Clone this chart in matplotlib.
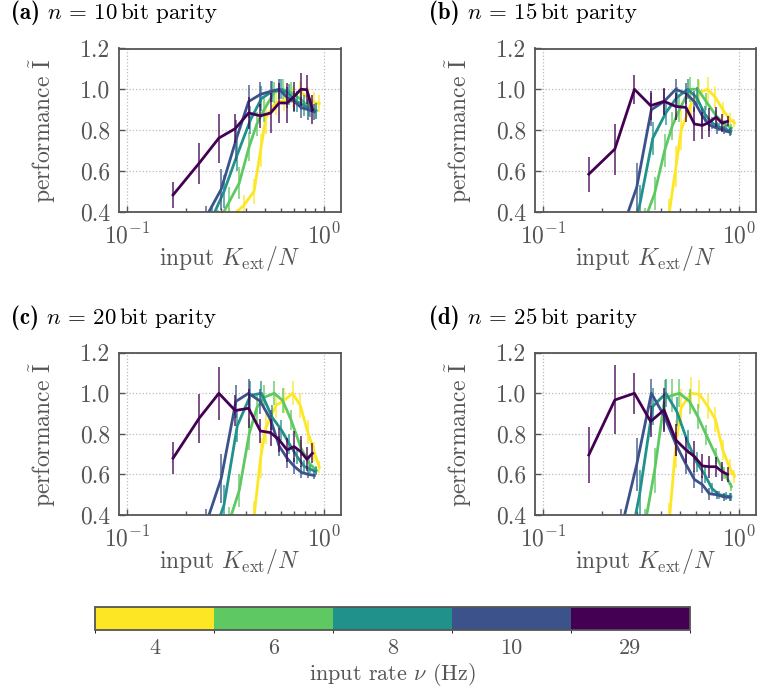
import numpy as np
import matplotlib
matplotlib.use("Agg")
import matplotlib.pyplot as plt
from matplotlib.colors import ListedColormap, BoundaryNorm
from matplotlib.cm import ScalarMappable

plt.rcParams['font.family'] = 'serif'
plt.rcParams['font.serif'] = ['cmr10', 'DejaVu Serif']
plt.rcParams['mathtext.fontset'] = 'cm'
plt.rcParams['axes.formatter.use_mathtext'] = True
plt.rcParams['font.size'] = 17

# input rates (Hz) and colours
rates = ['4', '6', '8', '10', '29']
colors = ['#fde725', '#5ec962', '#21918c', '#3b528b', '#440154']

# K_ext / N for each rate
x_4 = [0.27, 0.33, 0.39, 0.44, 0.475, 0.505, 0.568, 0.626, 0.690, 0.755, 0.823, 0.890, 0.943]
x_6 = [0.24, 0.29, 0.33, 0.37, 0.416, 0.455, 0.495, 0.557, 0.614, 0.677, 0.761, 0.839, 0.91]
x_8 = [0.22, 0.27, 0.31, 0.362, 0.422, 0.48, 0.545, 0.605, 0.665, 0.725, 0.79, 0.85, 0.905]
x_10 = [0.20, 0.25, 0.30, 0.356, 0.413, 0.474, 0.534, 0.590, 0.647, 0.703, 0.765, 0.83, 0.89]
x_29 = [0.171, 0.232, 0.292, 0.353, 0.413, 0.474, 0.534, 0.590, 0.647, 0.703, 0.760, 0.815, 0.870]

# (a) n = 10
a_4 = [0.15, 0.37, 0.43, 0.50, 0.70, 0.86, 0.935, 0.945, 0.965, 0.99, 0.96, 0.935, 0.93]
a_6 = [0.20, 0.35, 0.45, 0.54, 0.72, 0.83, 0.90, 0.985, 1.0, 0.985, 0.95, 0.91, 0.895]
a_8 = [0.20, 0.37, 0.50, 0.68, 0.85, 0.955, 0.99, 1.0, 0.975, 0.94, 0.92, 0.905, 0.895]
a_10 = [0.15, 0.37, 0.51, 0.75, 0.94, 0.975, 0.99, 1.0, 0.96, 0.94, 0.91, 0.90, 0.89]
a_29 = [0.482, 0.638, 0.761, 0.807, 0.884, 0.870, 0.884, 0.933, 0.933, 0.965, 1.0, 0.998, 0.90]
a_4_err = [0.05, 0.05, 0.05, 0.06, 0.08, 0.08, 0.06, 0.05, 0.05, 0.05, 0.05, 0.05, 0.04]
a_6_err = [0.05, 0.06, 0.07, 0.08, 0.07, 0.06, 0.06, 0.05, 0.05, 0.05, 0.05, 0.04, 0.04]
a_8_err = [0.05, 0.06, 0.08, 0.08, 0.07, 0.06, 0.05, 0.05, 0.05, 0.05, 0.05, 0.04, 0.04]
a_10_err = [0.05, 0.06, 0.10, 0.10, 0.08, 0.06, 0.05, 0.05, 0.05, 0.05, 0.05, 0.05, 0.04]
a_29_err = [0.065, 0.10, 0.12, 0.07, 0.08, 0.06, 0.10, 0.10, 0.10, 0.07, 0.08, 0.07, 0.07]

# (b) n = 15
b_4 = [0.10, 0.15, 0.25, 0.40, 0.62, 0.80, 0.93, 0.985, 1.0, 0.96, 0.90, 0.855, 0.835]
b_6 = [0.10, 0.20, 0.36, 0.49, 0.70, 0.82, 0.90, 1.0, 1.0, 0.94, 0.87, 0.83, 0.81]
b_8 = [0.10, 0.25, 0.43, 0.76, 0.885, 0.96, 1.0, 0.96, 0.88, 0.835, 0.815, 0.805, 0.795]
b_10 = [0.10, 0.30, 0.52, 0.90, 0.94, 1.0, 0.98, 0.94, 0.87, 0.825, 0.81, 0.80, 0.79]
b_29 = [0.584, 0.707, 1.0, 0.920, 0.941, 0.916, 0.911, 0.830, 0.823, 0.838, 0.864, 0.834, 0.843]
b_4_err = [0.05, 0.05, 0.05, 0.06, 0.10, 0.10, 0.07, 0.06, 0.06, 0.05, 0.04, 0.03, 0.02]
b_6_err = [0.05, 0.05, 0.06, 0.08, 0.08, 0.07, 0.06, 0.06, 0.05, 0.04, 0.03, 0.02, 0.02]
b_8_err = [0.05, 0.06, 0.10, 0.08, 0.06, 0.05, 0.05, 0.05, 0.04, 0.03, 0.02, 0.02, 0.02]
b_10_err = [0.05, 0.08, 0.12, 0.08, 0.06, 0.05, 0.05, 0.05, 0.04, 0.03, 0.03, 0.02, 0.02]
b_29_err = [0.085, 0.125, 0.07, 0.07, 0.065, 0.065, 0.07, 0.085, 0.065, 0.07, 0.05, 0.045, 0.025]

# (c) n = 20
c_4 = [0.10, 0.12, 0.20, 0.39, 0.68, 0.83, 0.94, 0.965, 1.0, 0.94, 0.81, 0.71, 0.635]
c_6 = [0.15, 0.25, 0.37, 0.52, 0.80, 0.93, 0.98, 1.0, 0.965, 0.87, 0.73, 0.655, 0.62]
c_8 = [0.15, 0.28, 0.45, 0.84, 0.99, 1.0, 0.88, 0.82, 0.75, 0.69, 0.64, 0.625, 0.615]
c_10 = [0.15, 0.35, 0.58, 0.96, 1.0, 0.96, 0.87, 0.74, 0.68, 0.64, 0.61, 0.60, 0.595]
c_29 = [0.680, 0.877, 1.0, 0.915, 0.926, 0.814, 0.806, 0.770, 0.721, 0.737, 0.712, 0.675, 0.704]
c_4_err = [0.05, 0.05, 0.05, 0.08, 0.10, 0.08, 0.06, 0.06, 0.06, 0.06, 0.06, 0.05, 0.03]
c_6_err = [0.05, 0.05, 0.07, 0.08, 0.08, 0.07, 0.06, 0.06, 0.06, 0.05, 0.04, 0.03, 0.02]
c_8_err = [0.05, 0.06, 0.10, 0.08, 0.07, 0.06, 0.06, 0.05, 0.05, 0.04, 0.03, 0.02, 0.02]
c_10_err = [0.05, 0.08, 0.12, 0.08, 0.07, 0.06, 0.05, 0.05, 0.05, 0.04, 0.03, 0.02, 0.02]
c_29_err = [0.08, 0.12, 0.13, 0.075, 0.095, 0.06, 0.065, 0.06, 0.06, 0.075, 0.075, 0.06, 0.05]

# (d) n = 25
d_4 = [0.10, 0.12, 0.20, 0.38, 0.75, 0.93, 1.0, 0.995, 0.935, 0.87, 0.72, 0.635, 0.59]
d_6 = [0.10, 0.20, 0.35, 0.62, 0.975, 0.99, 1.0, 0.96, 0.885, 0.795, 0.69, 0.605, 0.54]
d_8 = [0.10, 0.20, 0.50, 0.935, 1.0, 0.91, 0.76, 0.66, 0.60, 0.53, 0.50, 0.495, 0.49]
d_10 = [0.10, 0.33, 0.65, 1.0, 0.89, 0.75, 0.65, 0.575, 0.55, 0.505, 0.50, 0.49, 0.487]
d_29 = [0.696, 0.967, 1.0, 0.861, 0.918, 0.770, 0.721, 0.688, 0.642, 0.638, 0.638, 0.614, 0.600]
d_4_err = [0.05, 0.05, 0.05, 0.08, 0.12, 0.09, 0.08, 0.07, 0.06, 0.06, 0.05, 0.04, 0.03]
d_6_err = [0.05, 0.05, 0.08, 0.11, 0.09, 0.08, 0.07, 0.06, 0.06, 0.05, 0.04, 0.03, 0.02]
d_8_err = [0.05, 0.06, 0.12, 0.09, 0.07, 0.07, 0.06, 0.05, 0.04, 0.03, 0.02, 0.02, 0.02]
d_10_err = [0.05, 0.10, 0.13, 0.07, 0.07, 0.06, 0.05, 0.04, 0.04, 0.03, 0.02, 0.02, 0.02]
d_29_err = [0.14, 0.17, 0.10, 0.075, 0.11, 0.08, 0.065, 0.075, 0.06, 0.055, 0.05, 0.045, 0.035]

xs = [x_4, x_6, x_8, x_10, x_29]
panels = [
    ('a', 10, [a_4, a_6, a_8, a_10, a_29], [a_4_err, a_6_err, a_8_err, a_10_err, a_29_err]),
    ('b', 15, [b_4, b_6, b_8, b_10, b_29], [b_4_err, b_6_err, b_8_err, b_10_err, b_29_err]),
    ('c', 20, [c_4, c_6, c_8, c_10, c_29], [c_4_err, c_6_err, c_8_err, c_10_err, c_29_err]),
    ('d', 25, [d_4, d_6, d_8, d_10, d_29], [d_4_err, d_6_err, d_8_err, d_10_err, d_29_err]),
]

W, H = 759, 693
fig = plt.figure(figsize=(W / 100, H / 100), dpi=100)

grey = '#555555'
# axes boxes in pixels: left, top, right, bottom
boxes = [(119, 48.5, 340.7, 211.7), (535, 48.5, 755.7, 211.7),
         (119, 352.7, 340.7, 515), (535, 352.7, 755.7, 515)]
title_pos = [(11, 13), (429, 13), (11, 318), (429, 318)]

for (lab, n, ys, es), (l, t, r, b), (tx, ty) in zip(panels, boxes, title_pos):
    ax = fig.add_axes([l / W, 1 - b / H, (r - l) / W, (b - t) / H])
    for x, y, e, c in zip(xs, ys, es, colors):
        ax.errorbar(x, y, yerr=e, fmt='none', ecolor=c, elinewidth=1.3, alpha=0.75)
        ax.plot(x, y, color=c, lw=2.0)
    ax.set_xscale('log')
    ax.set_xlim(0.091, 1.21)
    ax.set_ylim(0.4, 1.2)
    ax.set_yticks([0.4, 0.6, 0.8, 1.0, 1.2])
    ax.set_yticklabels(['0.4', '0.6', '0.8', '1.0', '1.2'])
    ax.grid(True, which='major', ls=':', color='#bbbbbb', lw=0.9)
    ax.tick_params(which='both', direction='in', colors=grey, labelcolor=grey, top=False, right=False)
    ax.tick_params(which='major', length=4, width=1)
    ax.tick_params(which='minor', length=3, width=1)
    ax.tick_params(axis='y', pad=6)
    ax.tick_params(axis='x', pad=8)
    for s in ax.spines.values():
        s.set_color(grey)
        s.set_linewidth(1.3)
    ax.set_xlabel(r'input $K_{\mathrm{ext}}/N$', color=grey, labelpad=-3)
    ax.set_ylabel(r'performance $\tilde{\mathrm{I}}$', color=grey, labelpad=16)
    # bold panel letter, then the rest of the title right after it
    t1 = fig.text(tx / W, 1 - ty / H, '(%s)' % lab, family='cmb10',
                  ha='left', va='center', fontsize=16.5)
    ax.annotate(r' $n\,=\,%d\,$bit parity' % n, xy=(1, 0.5), xycoords=t1,
                ha='left', va='center', fontsize=16.5)

# colour bar
cax = fig.add_axes([95 / W, 1 - 630 / H, 595 / W, 23 / H])
cmap = ListedColormap(colors)
norm = BoundaryNorm(np.arange(6), cmap.N)
cb = fig.colorbar(ScalarMappable(norm=norm, cmap=cmap), cax=cax, orientation='horizontal')
cb.set_ticks(np.arange(5) + 0.5)
cb.set_ticklabels(rates)
cb.ax.tick_params(length=0, pad=6, labelcolor=grey, labelsize=16)
cb.outline.set_edgecolor(grey)
cb.outline.set_linewidth(1.3)
cb.set_label(r'input rate $\nu$ (Hz)', color=grey, labelpad=2, fontsize=16)

fig.savefig('out.png', dpi=100)
